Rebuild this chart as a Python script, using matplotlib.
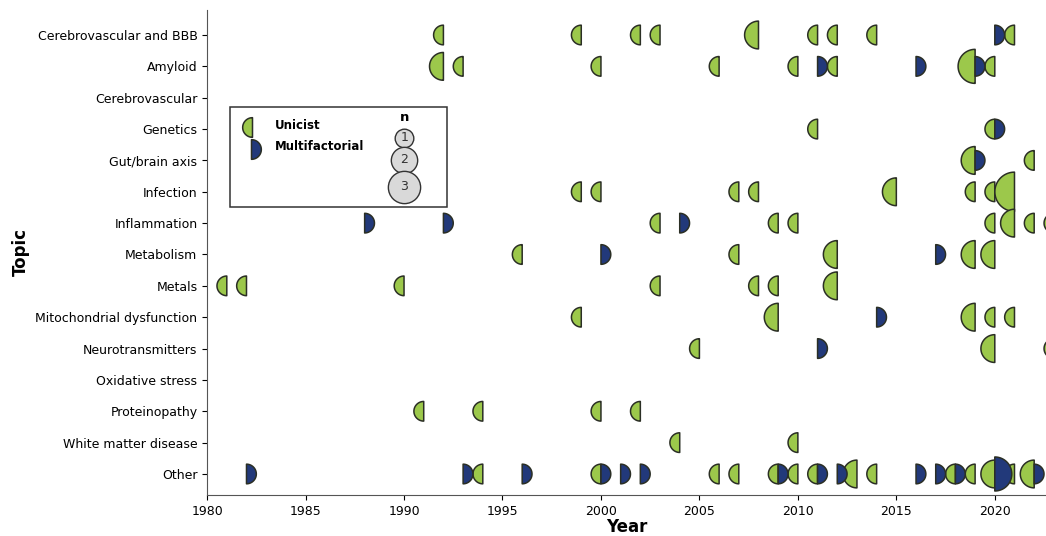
import numpy as np
import matplotlib.pyplot as plt
from matplotlib.path import Path
from matplotlib.patches import Rectangle

topics = ["Cerebrovascular and BBB", "Amyloid", "Cerebrovascular", "Genetics",
          "Gut/brain axis", "Infection", "Inflammation", "Metabolism", "Metals",
          "Mitochondrial dysfunction", "Neurotransmitters", "Oxidative stress",
          "Proteinopathy", "White matter disease", "Other"]

# Unicist papers (one entry per topic/year, n = number of papers)
uni_topic = (["Cerebrovascular and BBB"] * 9 + ["Amyloid"] * 8 + ["Genetics"] * 2
             + ["Gut/brain axis"] * 2 + ["Infection"] * 8 + ["Inflammation"] * 7
             + ["Metabolism"] * 5 + ["Metals"] * 7 + ["Mitochondrial dysfunction"] * 5
             + ["Neurotransmitters"] * 3 + ["Proteinopathy"] * 4
             + ["White matter disease"] * 2 + ["Other"] * 14)
uni_year = [
    1992, 1999, 2002, 2003, 2008, 2011, 2012, 2014, 2021,
    1992, 1993, 2000, 2006, 2010, 2012, 2019, 2020,
    2011, 2020,
    2019, 2022,
    1999, 2000, 2007, 2008, 2015, 2019, 2020, 2021,
    2003, 2009, 2010, 2020, 2021, 2022, 2023,
    1996, 2007, 2012, 2019, 2020,
    1981, 1982, 1990, 2003, 2008, 2009, 2012,
    1999, 2009, 2019, 2020, 2021,
    2005, 2020, 2023,
    1991, 1994, 2000, 2002,
    2004, 2010,
    1994, 2000, 2006, 2007, 2009, 2010, 2011, 2013, 2014, 2018, 2019, 2020, 2021, 2022,
]
uni_n = [
    1, 1, 1, 1, 2, 1, 1, 1, 1,
    2, 1, 1, 1, 1, 1, 3, 1,
    1, 1,
    2, 1,
    1, 1, 1, 1, 2, 1, 1, 4,
    1, 1, 1, 1, 2, 1, 1,
    1, 1, 2, 2, 2,
    1, 1, 1, 1, 1, 1, 2,
    1, 2, 2, 1, 1,
    1, 2, 1,
    1, 1, 1, 1,
    1, 1,
    1, 1, 1, 1, 1, 1, 1, 2, 1, 1, 1, 2, 1, 2,
]

# Multifactorial papers
multi_topic = (["Cerebrovascular and BBB"] + ["Amyloid"] * 3 + ["Genetics"]
               + ["Gut/brain axis"] + ["Inflammation"] * 3 + ["Metabolism"] * 2
               + ["Mitochondrial dysfunction"] + ["Neurotransmitters"] + ["Other"] * 14)
multi_year = [
    2020,
    2011, 2016, 2019,
    2020,
    2019,
    1988, 1992, 2004,
    2000, 2017,
    2014,
    2011,
    1982, 1993, 1996, 2000, 2001, 2002, 2009, 2011, 2012, 2016, 2017, 2018, 2020, 2022,
]
multi_n = [
    1,
    1, 1, 1,
    1,
    1,
    1, 1, 1,
    1, 1,
    1,
    1,
    1, 1, 1, 1, 1, 1, 1, 1, 1, 1, 1, 1, 3, 1,
]

GREEN = "#9cc84b"
NAVY = "#22397a"
EDGE = "#2b2f25"
BASE = 200  # marker area (pt^2) for n = 1


def half_disc(side):
    """Closed half-circle path; flat edge passes through the marker centre."""
    theta = np.linspace(np.pi / 2, 3 * np.pi / 2, 60)
    verts = np.column_stack([np.cos(theta), np.sin(theta)])
    if side == "right":
        verts = -verts
    verts = np.vstack([verts, verts[:1]])
    return Path(verts, closed=True)


def main():
    left = half_disc("left")
    right = half_disc("right")

    fig = plt.figure(figsize=(10.46, 5.36), dpi=100)
    ax = fig.add_axes([0.198, 0.0765, 0.802, 0.905])

    uni_y = [topics.index(t) for t in uni_topic]
    multi_y = [topics.index(t) for t in multi_topic]

    ax.scatter(uni_year, uni_y, s=[BASE * n for n in uni_n], marker=left,
               c=GREEN, edgecolors=EDGE, linewidths=1.1, zorder=3)
    ax.scatter(multi_year, multi_y, s=[BASE * n for n in multi_n], marker=right,
               c=NAVY, edgecolors=EDGE, linewidths=1.1, zorder=3)

    ax.set_xlim(1980, 2022.6)
    ax.set_ylim(14.67, -0.8)
    ax.set_yticks(range(len(topics)), topics, fontsize=9)
    ax.set_xticks(range(1980, 2021, 5))
    ax.tick_params(axis="x", labelsize=9)
    for side in ["top", "right"]:
        ax.spines[side].set_visible(False)
    for side in ["left", "bottom"]:
        ax.spines[side].set_color("#555555")
    ax.set_xlabel("Year", fontsize=12, fontweight="bold", labelpad=0)
    ax.set_ylabel("Topic", fontsize=12, fontweight="bold")

    # hand-made legend box
    tr = ax.transAxes
    ax.add_patch(Rectangle((0.0274, 0.594), 0.2586, 0.206, transform=tr,
                           facecolor="white", edgecolor="#333333", lw=1.1, zorder=4))
    ax.scatter([0.0536], [0.759], s=BASE, marker=left, c=GREEN,
               edgecolors=EDGE, linewidths=1.1, transform=tr, zorder=5)
    ax.scatter([0.0524], [0.713], s=BASE, marker=right, c=NAVY,
               edgecolors=EDGE, linewidths=1.1, transform=tr, zorder=5)
    ax.text(0.081, 0.761, "Unicist", transform=tr, fontsize=8.5,
            fontweight="bold", va="center", zorder=5)
    ax.text(0.081, 0.718, "Multifactorial", transform=tr, fontsize=8.5,
            fontweight="bold", va="center", zorder=5)
    ax.text(0.235, 0.778, "n", transform=tr, fontsize=9.5, fontweight="bold",
            ha="center", va="center", zorder=5)
    for n, yy in zip([1, 2, 3], [0.736, 0.691, 0.635]):
        ax.scatter([0.235], [yy], s=BASE * n * 0.9, marker="o", c="#d9d9d9",
                   edgecolors="#333333", linewidths=1.0, transform=tr, zorder=5)
        ax.text(0.235, yy, str(n), transform=tr, fontsize=9, color="#333333",
                ha="center", va="center", zorder=6)

    fig.savefig("out.png", dpi=100)


if __name__ == "__main__":
    main()
